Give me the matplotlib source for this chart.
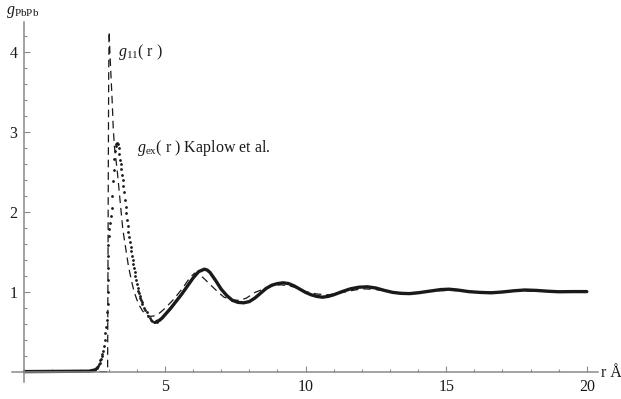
import matplotlib
matplotlib.use("Agg")
import matplotlib.pyplot as plt
from matplotlib.ticker import MultipleLocator, FixedLocator

plt.rcParams['font.family'] = ['Liberation Serif', 'DejaVu Serif']
plt.rcParams['mathtext.fontset'] = 'custom'
plt.rcParams['mathtext.rm'] = 'Liberation Serif'
plt.rcParams['mathtext.it'] = 'Liberation Serif:italic'
plt.rcParams['lines.scale_dashes'] = False

# g_ex(r), Kaplow et al. -- flat start, then the dense points around the first peak
r_ex_low = [0.0, 2.3, 2.5]
g_ex_low = [0.0, 0.005, 0.02]

r_ex_peak = [2.500, 2.525, 2.550, 2.575, 2.600, 2.625, 2.650, 2.675, 2.700, 2.725,
             2.750, 2.775, 2.800, 2.825, 2.850, 2.875, 2.900, 2.925, 2.950, 2.960,
             2.970, 2.975, 2.980, 2.985, 2.990, 3.000, 3.025, 3.050, 3.075, 3.100,
             3.125, 3.150, 3.175, 3.200, 3.225, 3.250, 3.275, 3.300, 3.325, 3.350,
             3.375, 3.400, 3.425, 3.450, 3.475, 3.500, 3.525, 3.550, 3.575, 3.600,
             3.625, 3.650, 3.675, 3.700, 3.725, 3.750, 3.775, 3.800, 3.825, 3.850,
             3.875, 3.900, 3.925, 3.950, 3.975, 4.000, 4.025, 4.050, 4.075, 4.100,
             4.125, 4.150, 4.175, 4.200, 4.250, 4.300, 4.350, 4.400, 4.450, 4.500,
             4.550, 4.600, 4.650, 4.700]
g_ex_peak = [0.02, 0.03, 0.04, 0.05, 0.06, 0.07, 0.09, 0.11, 0.14, 0.16,
             0.19, 0.22, 0.26, 0.32, 0.40, 0.48, 0.56, 0.64, 0.74, 0.85,
             1.00, 1.15, 1.30, 1.45, 1.58, 1.70, 1.78, 1.86, 1.95, 2.05,
             2.20, 2.38, 2.52, 2.66, 2.76, 2.82, 2.85, 2.86, 2.85, 2.80,
             2.72, 2.65, 2.59, 2.53, 2.46, 2.39, 2.32, 2.24, 2.15, 2.06,
             1.98, 1.90, 1.82, 1.75, 1.68, 1.62, 1.56, 1.51, 1.45, 1.40,
             1.34, 1.29, 1.24, 1.19, 1.14, 1.09, 1.05, 1.01, 0.98, 0.95,
             0.92, 0.89, 0.865, 0.84, 0.80, 0.77, 0.74, 0.70, 0.67, 0.645,
             0.63, 0.62, 0.62, 0.625]

r_ex_tail = [4.7, 4.8, 4.9, 5.0, 5.2, 5.4, 5.6, 5.8, 6.0, 6.2, 6.4, 6.5, 6.6, 6.8,
             7.0, 7.2, 7.4, 7.6, 7.8, 8.0, 8.2, 8.4, 8.6, 8.8, 9.0, 9.2, 9.4, 9.6,
             9.8, 10.0, 10.2, 10.4, 10.6, 10.8, 11.0, 11.3, 11.6, 11.9, 12.2, 12.5,
             12.8, 13.1, 13.4, 13.7, 14.0, 14.4, 14.8, 15.1, 15.4, 15.8, 16.2, 16.6,
             17.0, 17.4, 17.8, 18.2, 18.6, 19.0, 19.5, 20.0]
g_ex_tail = [0.625, 0.64, 0.67, 0.71, 0.79, 0.88, 0.97, 1.07, 1.17, 1.25, 1.28, 1.27,
             1.24, 1.14, 1.03, 0.95, 0.89, 0.865, 0.86, 0.875, 0.92, 0.98, 1.04, 1.08,
             1.10, 1.11, 1.10, 1.07, 1.03, 0.99, 0.96, 0.94, 0.93, 0.94, 0.96, 1.0,
             1.035, 1.055, 1.06, 1.045, 1.015, 0.99, 0.978, 0.975, 0.985, 1.005, 1.025,
             1.03, 1.02, 1.0, 0.99, 0.985, 0.995, 1.01, 1.02, 1.015, 1.005, 0.998, 1.0,
             1.0]

# g11(r)
r_11 = [0.0, 2.96, 2.975, 2.99, 3.0, 3.015, 3.04, 3.08, 3.12, 3.16, 3.2, 3.3, 3.4,
        3.5, 3.6, 3.7, 3.8, 3.9, 4.0, 4.1, 4.2, 4.3, 4.45, 4.6, 4.8, 5.0, 5.3, 5.6,
        5.9, 6.05, 6.2, 6.4, 6.6, 6.9, 7.1, 7.4, 7.67, 7.9, 8.2, 8.5, 8.8, 9.1, 9.4,
        9.7, 10.0, 10.4, 10.8, 11.2, 11.6, 12.0, 12.4, 12.8, 13.2, 13.7, 14.2, 14.7,
        15.2, 15.7, 16.2, 16.7, 17.2, 17.7, 18.2, 18.7, 19.3, 20.0]
g_11 = [0.0, 0.0, 1.5, 3.0, 3.8, 4.25, 4.0, 3.7, 3.4, 3.05, 2.82, 2.52, 2.15,
        1.78, 1.55, 1.32, 1.15, 1.00, 0.90, 0.82, 0.76, 0.72, 0.69, 0.695, 0.73,
        0.79, 0.90, 1.03, 1.18, 1.23, 1.22, 1.16, 1.09, 0.99, 0.93, 0.895, 0.89,
        0.92, 0.99, 1.03, 1.07, 1.085, 1.075, 1.045, 1.0, 0.97, 0.96, 0.98, 1.01,
        1.035, 1.03, 1.01, 0.99, 0.985, 0.995, 1.01, 1.015, 1.005, 0.995, 0.995,
        1.005, 1.01, 1.005, 1.0, 1.0, 1.0]

W, H = 621, 399
fig = plt.figure(figsize=(W / 100, H / 100), dpi=100)
ax = fig.add_axes([12 / W, (H - 382) / H, (598 - 12) / W, (382 - 22) / H])
ax.set_xlim(-0.44, 20.4)
ax.set_ylim(-0.13, 4.37)

ink = '#1a1a1a'
ax.plot(r_11, g_11, color=ink, lw=0.9, dashes=(5.5, 3.5))
ax.plot(r_ex_low, g_ex_low, color=ink, lw=2.4, solid_capstyle='round')
ax.plot(r_ex_tail, g_ex_tail, color=ink, lw=2.4, solid_capstyle='round')
ax.plot(r_ex_peak, g_ex_peak, 'o', color=ink, ms=2.0, mew=0)

# axes crossing at the origin
for side in ('top', 'right'):
    ax.spines[side].set_visible(False)
ax.spines['left'].set_position(('data', 0))
ax.spines['bottom'].set_position(('data', 0))
axis_grey = '#8a8a8a'
for side in ('left', 'bottom'):
    ax.spines[side].set_color(axis_grey)
    ax.spines[side].set_linewidth(1.1)

ax.xaxis.set_major_locator(FixedLocator([5, 10, 15, 20]))
ax.xaxis.set_minor_locator(MultipleLocator(1))
ax.yaxis.set_major_locator(FixedLocator([1, 2, 3, 4]))
ax.yaxis.set_minor_locator(MultipleLocator(0.2))
ax.tick_params(which='both', direction='in', color=axis_grey, width=0.8,
               labelsize=11.5, labelcolor=ink, pad=5)
ax.tick_params(which='major', length=4)
ax.tick_params(which='minor', length=2.3)

ax.text(3.33, 4.0, r'$g_{11}$( r )', fontsize=11.5, color=ink, ha='left', va='center')
ax.text(4.0, 2.8, r'$g_{\mathrm{ex}}$( r ) Kaplow et al.', fontsize=11.5, color=ink,
        ha='left', va='center')
fig.text(6 / W, 1 - 12 / H, r'$g_{\mathrm{PbPb}}$', fontsize=11.5, color=ink,
         ha='left', va='center')
fig.text(601 / W, 1 - 373 / H, 'r Å', fontsize=11.5, color=ink, ha='left', va='center')

fig.savefig('out.png', dpi=100)
